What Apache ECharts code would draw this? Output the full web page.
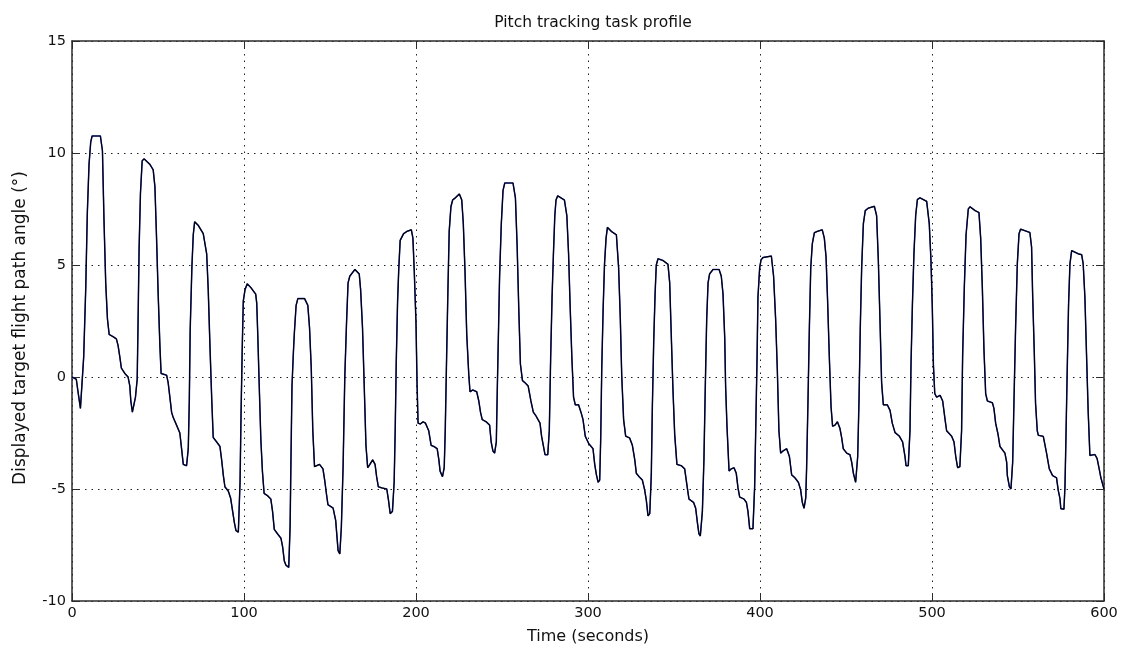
<!DOCTYPE html>
<html>
<head>
<meta charset="utf-8">
<title>Pitch tracking task profile</title>
<script src="https://cdn.jsdelivr.net/npm/echarts@6/dist/echarts.min.js"></script>
<style>
  html, body { margin: 0; padding: 0; background: #ffffff; }
  #chart { width: 1123px; height: 650px; }
</style>
</head>
<body>
<div id="chart"></div>
<script>
// Sample times (s) of the target flight path angle profile
const timeSec = [
  0, 2.5, 3.5, 4.9, 6.0, 6.8, 8.0, 8.9, 9.9, 10.9, 11.7, 16.5, 17.7, 18.6, 19.6, 20.6, 21.6, 23.9, 25.8, 26.8,
  27.8, 28.7, 30.7, 32.6, 33.6, 34.2, 35.1, 35.9, 36.9, 37.9, 38.4, 39.0, 39.8, 40.8, 41.9, 45.2, 47.2, 48.2, 49.1, 50.1,
  51.1, 51.8, 55.0, 55.9, 56.9, 57.9, 58.8, 60.8, 62.7, 63.7, 64.7, 66.6, 67.6, 68.2, 68.7, 69.7, 70.5, 71.3, 73.4, 76.3,
  78.3, 79.2, 80.2, 81.2, 82.1, 84.1, 86.0, 87.0, 88.0, 88.9, 90.9, 92.2, 93.4, 94.4, 95.3, 96.7, 97.7, 98.3, 99.0, 99.6,
  100.6, 101.9, 103.9, 106.8, 107.4, 108.0, 108.8, 109.8, 110.7, 111.7, 113.7, 115.6, 116.6, 117.6, 119.5, 121.5, 122.5, 123.4, 124.4, 126.0,
  126.8, 127.3, 127.9, 128.7, 129.3, 130.3, 131.3, 135.2, 137.1, 138.1, 139.1, 140.0, 141.0, 142.0, 143.9, 145.9, 146.9, 147.9, 148.8, 151.8,
  153.3, 154.7, 155.7, 156.6, 157.6, 158.6, 159.6, 160.5, 161.5, 164.5, 167.0, 167.8, 168.9, 169.9, 170.9, 171.9, 173.2, 174.8, 176.2, 177.1,
  178.1, 180.1, 183.0, 184.0, 185.0, 186.3, 187.3, 187.9, 188.5, 189.3, 190.0, 190.8, 192.8, 194.7, 197.3, 198.2, 199.0, 200.0, 200.6, 201.2,
  202.5, 204.1, 205.5, 207.4, 208.8, 210.4, 212.3, 213.3, 214.0, 215.4, 216.4, 217.0, 217.8, 218.6, 219.3, 220.3, 221.3, 222.9, 225.2, 226.6,
  227.5, 228.5, 229.5, 230.7, 231.4, 233.0, 235.3, 236.5, 237.5, 238.5, 240.8, 242.8, 243.7, 244.7, 245.7, 246.7, 247.3, 248.0, 248.6, 249.6,
  250.6, 251.6, 256.4, 257.8, 258.8, 259.8, 260.7, 261.9, 263.3, 265.2, 266.8, 268.2, 269.7, 272.1, 273.0, 274.0, 275.0, 276.6, 277.5, 278.3,
  279.1, 279.9, 280.7, 281.4, 282.4, 286.3, 287.7, 288.7, 289.6, 290.6, 291.6, 292.6, 294.5, 295.9, 297.1, 298.4, 300.4, 302.9, 303.9, 304.9,
  305.9, 306.8, 307.4, 308.0, 308.8, 309.6, 310.5, 311.3, 313.6, 316.5, 317.8, 318.8, 319.6, 320.7, 321.9, 324.2, 325.8, 327.2, 328.1, 329.7,
  331.6, 332.9, 333.9, 334.9, 335.9, 336.8, 337.4, 338.2, 339.0, 339.7, 340.7, 343.6, 346.5, 347.5, 348.4, 349.4, 350.4, 351.7, 354.3, 356.2,
  357.6, 358.7, 361.4, 362.6, 363.6, 364.5, 365.3, 366.5, 367.4, 368.2, 369.0, 369.8, 370.7, 372.7, 376.2, 377.5, 378.5, 379.5, 380.0, 380.8,
  382.0, 383.3, 384.9, 386.2, 387.2, 388.2, 390.7, 392.1, 393.0, 394.0, 395.9, 396.9, 397.5, 398.3, 398.8, 399.8, 400.6, 401.7, 403.7, 406.6,
  407.9, 409.1, 410.1, 411.0, 412.0, 413.4, 415.5, 417.1, 418.4, 420.3, 422.3, 423.6, 424.6, 425.6, 426.6, 427.1, 427.9, 428.7, 429.5, 430.4,
  431.6, 433.3, 436.2, 437.4, 438.4, 439.3, 440.3, 441.3, 442.2, 443.6, 445.0, 446.5, 447.5, 448.4, 450.4, 452.3, 453.3, 454.3, 455.6, 456.8,
  457.6, 458.3, 459.1, 460.1, 461.2, 463.0, 466.5, 467.8, 468.8, 469.8, 470.7, 471.7, 474.0, 475.6, 476.9, 478.5, 481.0, 482.9, 484.3, 484.9,
  486.2, 487.2, 487.8, 488.6, 489.5, 490.5, 491.5, 493.0, 496.9, 498.4, 499.4, 500.2, 500.8, 501.6, 502.7, 504.7, 506.2, 507.6, 508.5, 511.4,
  512.8, 513.8, 514.9, 516.2, 517.2, 517.8, 518.8, 519.8, 521.1, 522.1, 525.0, 527.3, 528.3, 529.3, 530.2, 531.2, 532.2, 535.1, 536.0, 537.0,
  538.4, 539.5, 542.4, 543.4, 543.8, 545.0, 545.9, 546.9, 547.7, 548.6, 549.6, 550.6, 551.5, 556.9, 557.9, 558.5, 559.5, 560.2, 561.2, 561.8,
  564.7, 565.7, 566.6, 568.2, 570.1, 572.4, 573.4, 574.4, 574.9, 576.7, 577.3, 577.8, 578.6, 579.4, 580.2, 581.2, 585.0, 587.0, 587.9, 588.9,
  589.9, 590.8, 591.8, 594.7, 596.0, 597.2, 598.2, 600
];

// Displayed target flight path angle (deg) at each sample time
const pathAngle = [
  0, -0.1, -0.66, -1.4, -1.44, 0.9, 4.0, 7.3, 9.5, 10.5, 10.76, 10.76, 10.1, 7.0, 4.2, 2.6, 1.9, 1.8, 1.7, 1.4,
  0.9, 0.4, 0.16, 0, -0.4, -1.07, -1.57, -1.65, -0.9, -0.1, 2.4, 5.7, 8.2, 9.65, 9.74, 9.5, 9.25, 8.5, 6.35, 3.7,
  1.4, 0.16, 0.08, -0.25, -0.9, -1.57, -1.8, -2.15, -2.5, -3.2, -3.9, -3.96, -3.2, -1.07, 2.06, 4.9, 6.35, 6.93, 6.77, 6.4,
  5.5, 3.9, 1.4, -0.9, -2.7, -2.9, -3.1, -3.7, -4.4, -4.9, -5.1, -5.4, -6.0, -6.5, -6.85, -6.93, -4.7, -1.57, 1.4, 3.4,
  3.9, 4.16, 4.0, 3.7, 3.3, 1.9, -0.25, -2.8, -4.2, -5.2, -5.3, -5.45, -6.0, -6.8, -7.0, -7.2, -7.6, -8.2, -8.4, -8.5,
  -6.7, -3.7, -0.4, 1.07, 2.0, 3.2, 3.5, 3.5, 3.2, 2.2, 0.4, -2.4, -4.0, -4.05, -3.9, -4.1, -4.6, -5.2, -5.7, -5.85,
  -6.4, -7.75, -7.9, -6.7, -4.05, 0, 2.4, 4.2, 4.5, 4.8, 4.6, 3.9, 2.2, -0.4, -3.05, -4.05, -3.9, -3.7, -3.9, -4.45,
  -4.9, -4.95, -5.0, -5.5, -6.1, -6.0, -4.7, -2.4, 0.6, 3.4, 4.87, 6.1, 6.4, 6.5, 6.57, 6.2, 4.7, 2.4, -0.25, -2.06,
  -2.1, -2.0, -2.06, -2.4, -3.05, -3.1, -3.2, -3.7, -4.2, -4.45, -4.05, -2.4, 0.9, 4.04, 6.5, 7.6, 7.9, 8.0, 8.17, 7.9,
  6.85, 4.7, 1.9, 0.08, -0.66, -0.58, -0.66, -1.07, -1.57, -1.9, -2.0, -2.15, -2.9, -3.3, -3.4, -2.9, -0.4, 2.2, 4.5, 6.85,
  8.33, 8.66, 8.66, 8.0, 5.85, 2.9, 0.58, -0.16, -0.25, -0.4, -1.07, -1.57, -1.73, -2.06, -2.64, -3.05, -3.47, -3.47, -2.4, 0.9,
  3.55, 5.5, 7.2, 7.9, 8.09, 7.9, 7.2, 5.5, 3.2, 0.9, -0.9, -1.24, -1.24, -1.57, -1.9, -2.64, -2.97, -3.2, -3.9, -4.37,
  -4.7, -4.6, -2.7, 0.4, 3.05, 5.03, 6.2, 6.68, 6.5, 6.35, 4.87, 2.56, 0.08, -1.9, -2.64, -2.72, -3.05, -3.7, -4.3, -4.45,
  -4.6, -5.03, -5.5, -6.2, -6.1, -4.37, -1.4, 1.57, 3.7, 5.0, 5.28, 5.2, 5.03, 4.2, 1.9, -0.58, -2.56, -3.9, -3.96, -4.1,
  -4.87, -5.45, -5.6, -5.86, -6.5, -7.0, -7.1, -6.0, -3.7, -0.4, 2.56, 4.2, 4.6, 4.8, 4.8, 4.5, 3.7, 1.73, -0.4, -2.2,
  -4.2, -4.1, -4.05, -4.3, -4.95, -5.36, -5.45, -5.6, -6.0, -6.77, -6.77, -4.87, -2.4, 0.9, 3.55, 4.87, 5.23, 5.33, 5.36, 5.4,
  4.5, 2.56, 0.25, -2.4, -3.4, -3.3, -3.2, -3.55, -4.37, -4.5, -4.7, -5.03, -5.6, -5.86, -5.4, -4.05, -1.07, 2.2, 4.87, 5.94,
  6.44, 6.5, 6.57, 6.2, 5.36, 3.4, 0.9, -1.32, -2.2, -2.15, -2.0, -2.3, -2.72, -3.2, -3.4, -3.47, -3.8, -4.3, -4.7, -3.55,
  -0.9, 2.2, 4.87, 6.85, 7.43, 7.54, 7.62, 7.2, 5.2, 2.4, -0.25, -1.24, -1.24, -1.49, -2.06, -2.48, -2.64, -2.9, -3.55, -3.96,
  -3.96, -2.4, 0.58, 3.2, 5.5, 7.2, 7.92, 8.0, 7.84, 6.85, 5.2, 3.05, 0.58, -0.74, -0.9, -0.82, -1.07, -1.9, -2.4, -2.64,
  -2.9, -3.55, -4.05, -4.0, -2.4, 0.9, 4.04, 6.35, 7.5, 7.6, 7.43, 7.34, 6.2, 3.9, 1.24, -0.74, -1.07, -1.15, -1.4, -2.06,
  -2.56, -3.1, -3.4, -3.8, -4.4, -4.9, -5.0, -3.8, -0.94, 2.2, 5.05, 6.4, 6.6, 6.45, 5.8, 3.7, 1.0, -1.17, -2.4, -2.6,
  -2.65, -3.04, -3.4, -4.1, -4.4, -4.5, -5.06, -5.43, -5.88, -5.9, -4.9, -3.04, 0.25, 3.25, 5.05, 5.64, 5.5, 5.46, 5.05, 3.55,
  0.85, -1.54, -3.5, -3.46, -3.64, -4.1, -4.5, -5.0
];

// Axis ranges and tick steps
const timeRange = [0, 600];
const timeStep = 100;
const angleRange = [-10, 15];
const angleStep = 5;

const profile = timeSec.map((t, i) => [t, pathAngle[i]]);

const FONT = '"DejaVu Sans", "Liberation Sans", sans-serif';
const boxLine = { show: true, onZero: false, lineStyle: { color: '#2b2b2b', width: 1.5 } };
const inTick = { show: true, inside: true, length: 8, lineStyle: { color: '#2b2b2b', width: 1 } };
const dotted = { show: true, lineStyle: { color: '#222', width: 1, type: [1.5, 5] } };

const chart = echarts.init(document.getElementById('chart'), null, { renderer: 'canvas' });

chart.setOption({
  backgroundColor: '#ffffff',
  animation: false,
  title: {
    text: 'Pitch tracking task profile',
    left: 588, textAlign: 'center',
    top: 10,
    textStyle: { fontFamily: FONT, fontSize: 15.5, fontWeight: 'normal', color: '#111' }
  },
  grid: { left: 72, right: 19, top: 41, bottom: 49, containLabel: false },
  xAxis: [
    {
      type: 'value', position: 'bottom',
      min: timeRange[0], max: timeRange[1], interval: timeStep,
      name: 'Time (seconds)', nameLocation: 'middle', nameGap: 28,
      nameTextStyle: { fontFamily: FONT, fontSize: 16, color: '#111' },
      axisLine: boxLine, axisTick: inTick,
      axisLabel: { fontFamily: FONT, fontSize: 14.5, color: '#111', margin: 5 },
      splitLine: dotted
    },
    {
      type: 'value', position: 'top',
      min: timeRange[0], max: timeRange[1], interval: timeStep,
      axisLine: boxLine, axisTick: inTick,
      axisLabel: { show: false }, splitLine: { show: false }
    }
  ],
  yAxis: [
    {
      type: 'value', position: 'left',
      min: angleRange[0], max: angleRange[1], interval: angleStep,
      name: 'Displayed target flight path angle (°)', nameLocation: 'middle', nameGap: 43,
      nameTextStyle: { fontFamily: FONT, fontSize: 17, color: '#111', padding: [0, 14, 0, 0] },
      axisLine: boxLine, axisTick: inTick,
      axisLabel: { fontFamily: FONT, fontSize: 14.5, color: '#111', margin: 6 },
      splitLine: dotted
    },
    {
      type: 'value', position: 'right',
      min: angleRange[0], max: angleRange[1], interval: angleStep,
      axisLine: boxLine, axisTick: inTick,
      axisLabel: { show: false }, splitLine: { show: false }
    }
  ],
  series: [
    {
      // commanded trace (blue), drawn underneath
      type: 'line', data: profile, xAxisIndex: 0, yAxisIndex: 0,
      showSymbol: false, symbol: 'none',
      lineStyle: { color: '#2233cc', width: 1.5 },
      z: 2
    },
    {
      // displayed trace (black), drawn on top
      type: 'line', data: profile, xAxisIndex: 0, yAxisIndex: 0,
      showSymbol: false, symbol: 'none',
      lineStyle: { color: '#000000', width: 1.2 },
      z: 3
    }
  ]
});
</script>
</body>
</html>
